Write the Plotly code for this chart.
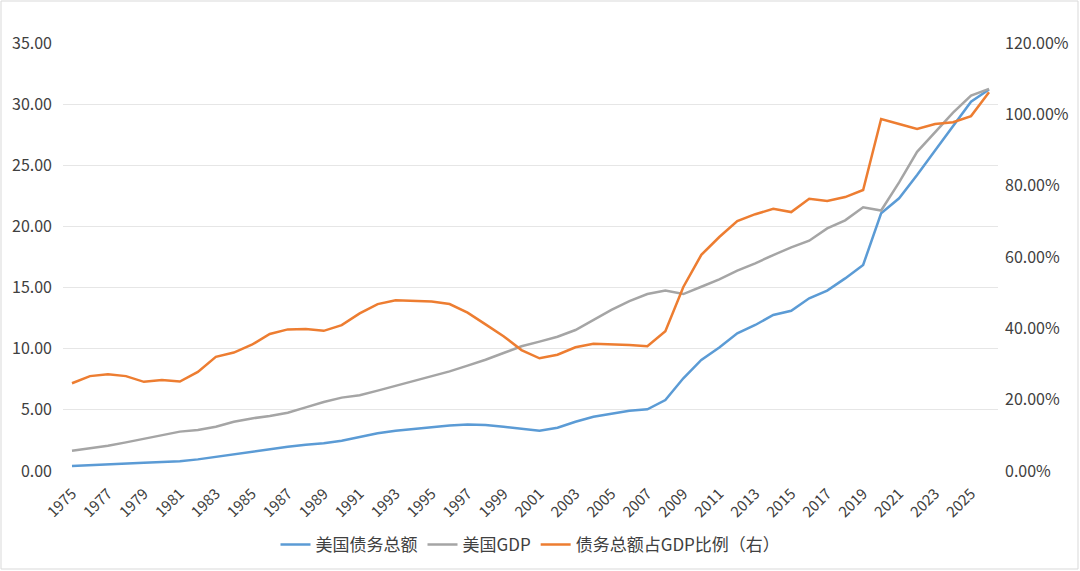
import plotly.graph_objects as go

years = list(range(1975, 2027))

debt = [0.41, 0.49, 0.57, 0.63, 0.68, 0.73, 0.79, 0.95, 1.17, 1.36, 1.55, 1.80, 1.99, 2.15,
        2.26, 2.48, 2.80, 3.08, 3.30, 3.46, 3.62, 3.72, 3.80, 3.76, 3.62, 3.43, 3.30, 3.54,
        4.03, 4.44, 4.71, 4.93, 5.04, 5.80, 7.58, 9.08, 10.10, 11.26, 11.94, 12.76, 13.10,
        14.12, 14.75, 15.75, 16.85, 21.07, 22.30, 24.20, 26.20, 28.15, 30.20, 31.20]

gdp = [1.66, 1.85, 2.07, 2.34, 2.64, 2.89, 3.22, 3.35, 3.62, 4.03, 4.30, 4.50, 4.77, 5.20,
       5.64, 6.00, 6.19, 6.57, 6.95, 7.39, 7.77, 8.15, 8.62, 9.10, 9.65, 10.20, 10.58, 10.98,
       11.53, 12.35, 13.17, 13.90, 14.47, 14.75, 14.47, 15.07, 15.67, 16.38, 16.98, 17.66,
       18.29, 18.83, 19.84, 20.50, 21.56, 21.30, 23.60, 26.10, 27.70, 29.30, 30.70, 31.25]

ratio = [24.6, 26.6, 27.1, 26.6, 25.0, 25.5, 25.1, 27.8, 32.0, 33.2, 35.4, 38.4, 39.7, 39.8,
         39.3, 40.9, 44.2, 46.8, 47.9, 47.8, 47.5, 46.8, 44.4, 41.1, 37.8, 33.9, 31.6, 32.6,
         34.7, 35.7, 35.6, 35.3, 35.0, 39.2, 51.6, 60.6, 65.6, 70.1, 72.0, 73.5, 72.6, 76.3,
         75.7, 76.8, 78.8, 98.7, 97.3, 95.9, 97.3, 97.8, 99.5, 106.2]

x_tick_years = list(range(1975, 2026, 2))
left_ticks = [0, 5, 10, 15, 20, 25, 30, 35]
right_ticks = [0, 20, 40, 60, 80, 100, 120]

names = ["美国债务总额", "美国GDP", "债务总额占GDP比例（右）"]
colors = ["#5B9BD5", "#A5A5A5", "#ED7D31"]

font_family = "Noto Sans CJK SC, Noto Sans, sans-serif"

fig = go.Figure()
fig.add_trace(go.Scatter(x=years, y=debt, name=names[0], mode="lines",
                         line=dict(color=colors[0], width=2.5)))
fig.add_trace(go.Scatter(x=years, y=gdp, name=names[1], mode="lines",
                         line=dict(color=colors[1], width=2.5)))
fig.add_trace(go.Scatter(x=years, y=ratio, name=names[2], mode="lines", yaxis="y2",
                         line=dict(color=colors[2], width=2.5)))

W, H = 1080, 571
L, R, T, B = 63, 82, 43, 100
pw, ph = W - L - R, H - T - B

fig.update_layout(
    width=W, height=H,
    margin=dict(l=L, r=R, t=T, b=B, pad=0, autoexpand=False),
    paper_bgcolor="white", plot_bgcolor="white",
    font=dict(family=font_family, color="#404040", size=15),
    showlegend=True,
    legend=dict(orientation="h", x=0.5, xanchor="center", y=-(545 - (H - B)) / ph,
                yanchor="middle", font=dict(size=17, color="#404040"),
                itemwidth=30, tracegroupgap=0),
    xaxis=dict(
        range=[1974.5, 2026.5], tickmode="array", tickvals=x_tick_years,
        ticktext=[str(y) for y in x_tick_years], tickangle=-45, automargin=False,
        showgrid=False, zeroline=False, showline=False, ticks="",
        ticklabelstandoff=10, tickfont=dict(size=15, color="#404040"),
    ),
    yaxis=dict(
        range=[0, 35], tickmode="array", tickvals=left_ticks,
        ticktext=[f"{v:.2f}" for v in left_ticks], automargin=False,
        showgrid=True, gridcolor="#E6E6E6", gridwidth=1, zeroline=False,
        showline=False, ticks="", ticklabelstandoff=10,
        tickfont=dict(size=16, color="#404040"),
    ),
    yaxis2=dict(
        range=[0, 120], tickmode="array", tickvals=right_ticks,
        ticktext=[f"{v:.2f}%" for v in right_ticks], automargin=False,
        overlaying="y", side="right", showgrid=False, zeroline=False,
        showline=False, ticks="", ticklabelstandoff=6,
        tickfont=dict(size=16, color="#404040"),
    ),
    shapes=[dict(type="rect", xref="paper", yref="paper",
                 x0=(1 - L) / pw, x1=(W - 2 - L) / pw,
                 y0=-(B - 2) / ph, y1=1 + (T - 1) / ph,
                 line=dict(color="#D9D9D9", width=1), fillcolor="rgba(0,0,0,0)",
                 layer="below")],
)

fig.write_html("out.html")
